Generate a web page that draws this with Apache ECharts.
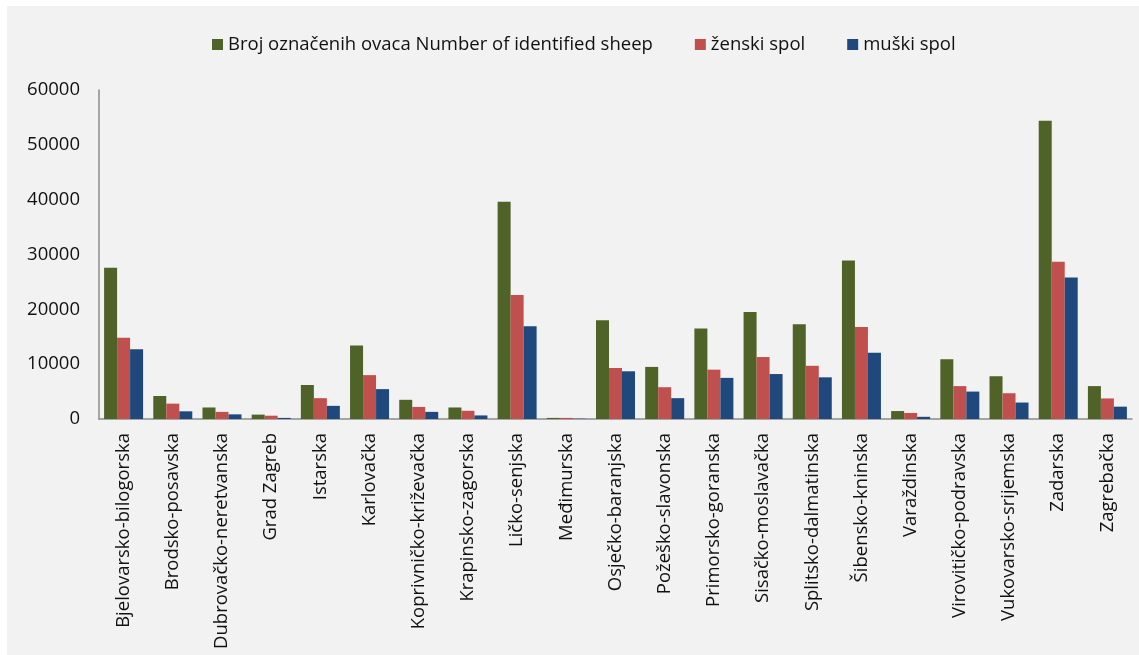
<!DOCTYPE html>
<html>
<head>
<meta charset="utf-8">
<script src="https://cdn.jsdelivr.net/npm/echarts@6/dist/echarts.min.js"></script>
<style>
  html, body { margin:0; padding:0; background:#ffffff; }
  #bg { position:absolute; left:7px; top:6px; width:1132px; height:649px; background:#f2f2f2; }
  #chart { position:absolute; left:0; top:0; width:1139px; height:655px; }
</style>
</head>
<body>
<div id="bg"></div>
<div id="chart"></div>
<script>
const categories = ["Bjelovarsko-bilogorska","Brodsko-posavska","Dubrovačko-neretvanska","Grad Zagreb","Istarska","Karlovačka","Koprivničko-križevačka","Krapinsko-zagorska","Ličko-senjska","Međimurska","Osječko-baranjska","Požeško-slavonska","Primorsko-goranska","Sisačko-moslavačka","Splitsko-dalmatinska","Šibensko-kninska","Varaždinska","Virovitičko-podravska","Vukovarsko-srijemska","Zadarska","Zagrebačka"];
const seriesNames = ["Broj označenih ovaca Number of identified sheep", "ženski spol", "muški spol"];
const totalSheep = [27600,4200,2100,800,6200,13400,3500,2100,39600,200,18000,9500,16500,19500,17300,28900,1450,10900,7800,54400,6000];
const femaleSheep = [14800,2800,1300,600,3800,8000,2200,1500,22600,200,9300,5800,9000,11300,9700,16800,1100,6000,4700,28700,3750];
const maleSheep = [12700,1400,850,200,2400,5450,1300,650,16900,50,8700,3800,7500,8200,7600,12100,400,5000,3000,25800,2250];
const yTicks = [0,10000,20000,30000,40000,50000,60000];

const colors = ['#4f6228', '#c0504d', '#1f497d'];
const font = '"Open Sans", sans-serif';

const chart = echarts.init(document.getElementById('chart'), null, {renderer: 'canvas'});
chart.setOption({
  animation: false,
  backgroundColor: 'transparent',
  color: colors,
  textStyle: { fontFamily: font },
  legend: {
    left: 212, top: 35, padding: 0,
    itemWidth: 11, itemHeight: 11, itemGap: 42,
    icon: 'rect',
    textStyle: { fontFamily: font, fontSize: 18.5, color: '#111' },
    data: seriesNames
  },
  grid: { left: 99, right: 7, top: 90, bottom: 236, containLabel: false },
  xAxis: {
    type: 'category',
    data: categories,
    axisLine: { show: true, lineStyle: { color: '#8c8c8c', width: 1.5 } },
    axisTick: { show: false },
    axisLabel: { rotate: 90, margin: 14, fontFamily: font, fontSize: 18.5, color: '#111', interval: 0 }
  },
  yAxis: {
    type: 'value',
    min: yTicks[0], max: yTicks[yTicks.length - 1], interval: 10000,
    axisLine: { show: true, lineStyle: { color: '#8c8c8c', width: 1.5 } },
    axisTick: { show: false },
    splitLine: { show: false },
    axisLabel: { margin: 19, fontFamily: font, fontSize: 18.5, color: '#111', formatter: function (v) { return String(v); } }
  },
  series: [
    { name: seriesNames[0], type: 'bar', data: totalSheep, barWidth: 13, barGap: '0%' },
    { name: seriesNames[1], type: 'bar', data: femaleSheep, barWidth: 13, barGap: '0%' },
    { name: seriesNames[2], type: 'bar', data: maleSheep, barWidth: 13, barGap: '0%' }
  ]
});
</script>
</body>
</html>
